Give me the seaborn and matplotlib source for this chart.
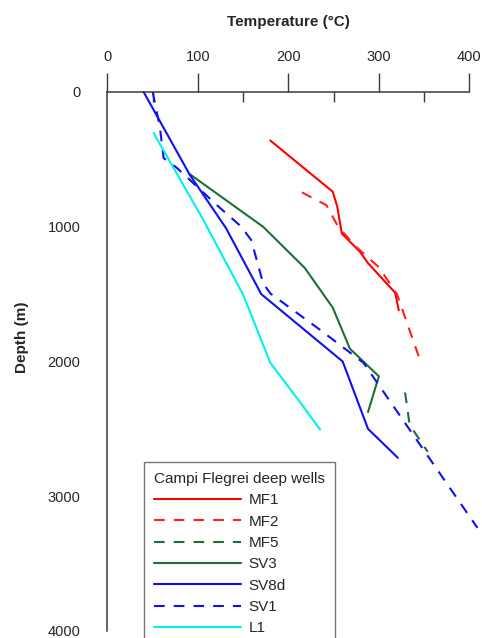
import matplotlib
matplotlib.use("Agg")
import matplotlib.pyplot as plt
from matplotlib.ticker import MultipleLocator
import seaborn as sns
import pandas as pd

# well temperature profiles (T in degC, depth in m)
mf1_temp  = [180, 249, 254, 259, 279, 288, 318, 322]
mf1_depth = [360, 740, 850, 1050, 1185, 1270, 1490, 1620]

mf2_temp  = [215, 242, 255, 275, 300, 320, 345]
mf2_depth = [745, 840, 1000, 1150, 1300, 1500, 1980]

mf5_temp  = [329, 334, 354]
mf5_depth = [2230, 2470, 2670]

sv3_temp  = [91, 172, 218, 249, 268, 300, 288]
sv3_depth = [610, 1000, 1305, 1600, 1905, 2110, 2375]

sv8d_temp  = [40, 91, 131, 170, 260, 288, 321]
sv8d_depth = [0, 615, 1010, 1500, 2000, 2500, 2715]

sv1_temp  = [50, 58, 62, 77, 93, 121, 148, 159, 172, 180, 235, 283, 409]
sv1_depth = [0, 265, 490, 565, 665, 840, 1000, 1100, 1420, 1495, 1765, 2010, 3235]

l1_temp  = [51, 106, 150, 180, 211, 235]
l1_depth = [305, 950, 1505, 2010, 2285, 2505]

wells  = ["MF1", "MF2", "MF5", "SV3", "SV8d", "SV1", "L1"]
colors = ["#ff0000", "#ff2020", "#1f6f34", "#1f6f34", "#1010f0", "#1010f0", "#00f0f0"]
dashed = [False, True, True, False, False, True, False]

series = {
    "MF1": (mf1_temp, mf1_depth),
    "MF2": (mf2_temp, mf2_depth),
    "MF5": (mf5_temp, mf5_depth),
    "SV3": (sv3_temp, sv3_depth),
    "SV8d": (sv8d_temp, sv8d_depth),
    "SV1": (sv1_temp, sv1_depth),
    "L1": (l1_temp, l1_depth),
}

sns.set_style("white")
plt.rcParams["font.family"] = ["Liberation Sans", "DejaVu Sans"]
plt.rcParams["lines.scale_dashes"] = False

fig = plt.figure(figsize=(4.82, 6.38), dpi=100)
ax = fig.add_axes([0.223, 0.011, 0.7507, 0.8448])

for name, col, dash in zip(wells, colors, dashed):
    t, d = series[name]
    df = pd.DataFrame({"temp": t, "depth": d})
    sns.lineplot(data=df, x="temp", y="depth", sort=False, estimator=None,
                 color=col, linewidth=1.5, label=name, ax=ax)
    line = ax.lines[-1]
    line.set_clip_on(False)
    if dash:
        line.set_linestyle((0, (7.7, 6.5)))

ax.set_xlim(0, 400)
ax.set_ylim(4000, 0)

ax.xaxis.tick_top()
ax.xaxis.set_label_position("top")
ax.xaxis.set_major_locator(MultipleLocator(100))
ax.xaxis.set_minor_locator(MultipleLocator(50))
ax.yaxis.set_major_locator(MultipleLocator(1000))
ax.yaxis.set_minor_locator(MultipleLocator(500))

spine_col = "#3a3a3a"
for side in ["right", "bottom"]:
    ax.spines[side].set_visible(False)
for side in ["top", "left"]:
    ax.spines[side].set_color(spine_col)
    ax.spines[side].set_linewidth(1.1)

ax.tick_params(axis="x", which="major", direction="out", length=13.5, width=1.0,
               color=spine_col, pad=7, labelsize=10.5, top=True, bottom=False)
ax.tick_params(axis="x", which="minor", direction="in", length=7, width=1.0,
               color=spine_col, top=True, bottom=False)
ax.tick_params(axis="y", which="major", direction="out", length=13, width=1.0,
               color=spine_col, pad=6.5, labelsize=10.5)
ax.tick_params(axis="y", which="minor", direction="out", length=6.5, width=1.0,
               color=spine_col)

ax.set_xlabel("Temperature (\u00b0C)", fontsize=11, fontweight="bold")
ax.xaxis.set_label_coords(0.5, 1.13)
ax.xaxis.label.set_va("center")
ax.set_ylabel("Depth (m)", fontsize=11, fontweight="bold")
ax.yaxis.set_label_coords(-0.236, 0.5455)
ax.yaxis.label.set_va("center")

leg = ax.legend(title="Campi Flegrei deep wells", loc="upper left",
                bbox_to_anchor=(144 / 482, 1 - 462 / 638), bbox_transform=fig.transFigure,
                fontsize=11, title_fontsize=11, frameon=True, fancybox=False,
                handlelength=5.7, handletextpad=0.5, labelspacing=0.48,
                borderpad=0.65, borderaxespad=0)
leg._legend_box.align = "left"
leg.get_frame().set_edgecolor("#555555")
leg.get_frame().set_linewidth(1.0)
for h in leg.get_lines():
    h.set_linewidth(1.5)

fig.savefig("out.png", dpi=100)
